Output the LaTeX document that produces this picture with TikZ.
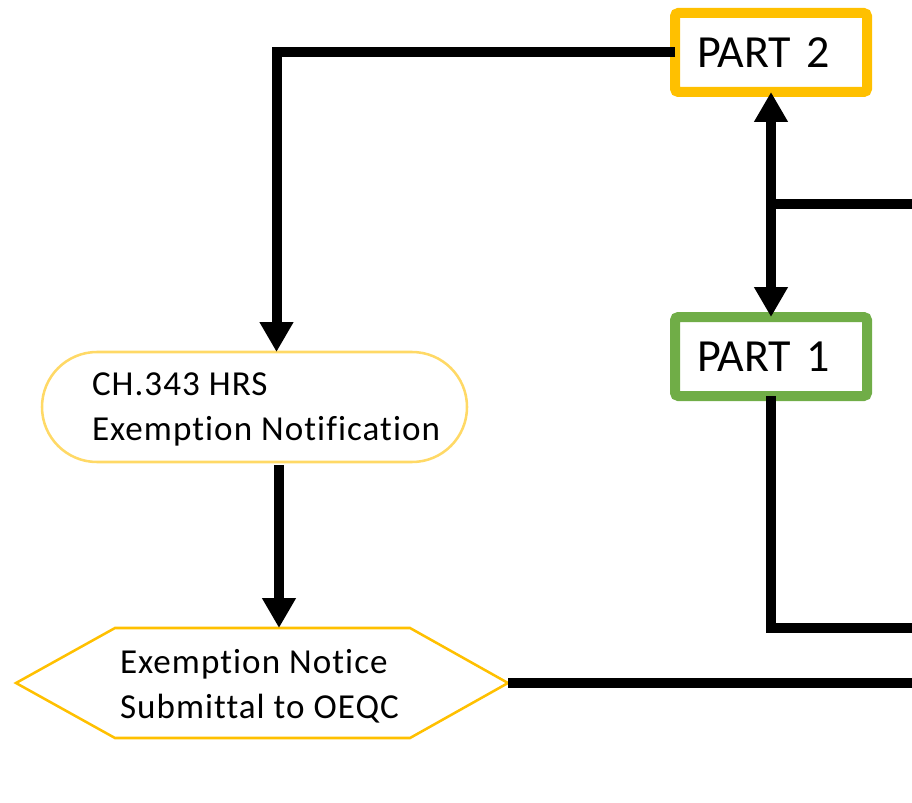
\documentclass[tikz,border=0pt]{standalone}
\usepackage{fontspec}
\setmainfont{Carlito}[Ligatures={NoCommon}]
\newfontfamily\lblfont{Carlito}[Ligatures={NoCommon},LetterSpace=3]
\usetikzlibrary{arrows.meta}
\definecolor{partorange}{HTML}{FFC000}
\definecolor{partgreen}{HTML}{70AD47}
\definecolor{lightyellow}{HTML}{FFD966}
\tikzset{
  partbox/.style={draw, line width=7.5pt, rounded corners=2.5pt, fill=white,
    text width=111pt, align=left, inner xsep=16.5pt, inner ysep=0pt,
    minimum height=59.25pt, outer sep=0pt,
    font=\fontsize{34.5}{40}\selectfont},
  conn/.style={line width=7.5pt, draw=black},
  tip/.style={-{Triangle[length=22.5pt,width=24pt]}},
  lbl/.style={inner sep=0pt, outer sep=0pt, anchor=base west,
    font=\lblfont\fontsize{26.3}{33.75}\selectfont}
}
\begin{document}
\begin{tikzpicture}[x=0.75pt,y=-0.75pt]
\useasboundingbox (0,0) rectangle (912,802);

% nodes
\node[partbox, draw=partorange] (p2) at (771,52.5) {PART 2};
\node[partbox, draw=partgreen] (p1) at (771,356.5) {PART 1};

\node[draw=lightyellow, line width=1.9pt, minimum width=318.75pt,
      minimum height=82.5pt, rounded corners=41.25pt, inner sep=0pt,
      outer sep=0pt] (ch) at (254.5,407) {};
\node[lbl] (chA) at (92,395) {CH.343 HRS};
\node[lbl] (chB) at (92,440) {Exemption Notification};

% hexagon
\coordinate (hxW) at (16,683);
\coordinate (hxNW) at (115,628);
\coordinate (hxNE) at (410,628);
\coordinate (hxE) at (508,683);
\coordinate (hxSE) at (410,738);
\coordinate (hxSW) at (115,738);
\draw[draw=partorange, line width=1.9pt, line join=miter]
  (hxW) -- (hxNW) -- (hxNE) -- (hxE) -- (hxSE) -- (hxSW) -- cycle;
\node[lbl] (exA) at (120,673) {Exemption Notice};
\node[lbl] (exB) at (120,718) {Submittal to OEQC};

% connector helper coordinates
\coordinate (chTop) at (276.5,352);
\coordinate (chBot) at (279,465);
\coordinate (hxTop) at (279,628);
\coordinate (br) at (771,204);
\coordinate (edgeA) at (912,204);
\coordinate (edgeB) at (912,628);
\coordinate (edgeC) at (912,683);

% connectors
\draw[conn, {Triangle[length=22.5pt,width=24pt]}-{Triangle[length=22.5pt,width=24pt]}] (p2.south) -- (p1.north);
\draw[conn] (br) -- (edgeA);
\draw[conn] (p1.south) |- (edgeB);
\draw[conn, tip] (p2.west) -| (chTop);
\draw[conn, tip] (chBot) -- (hxTop);
\draw[conn] (hxE) -- (edgeC);
\end{tikzpicture}
\end{document}
